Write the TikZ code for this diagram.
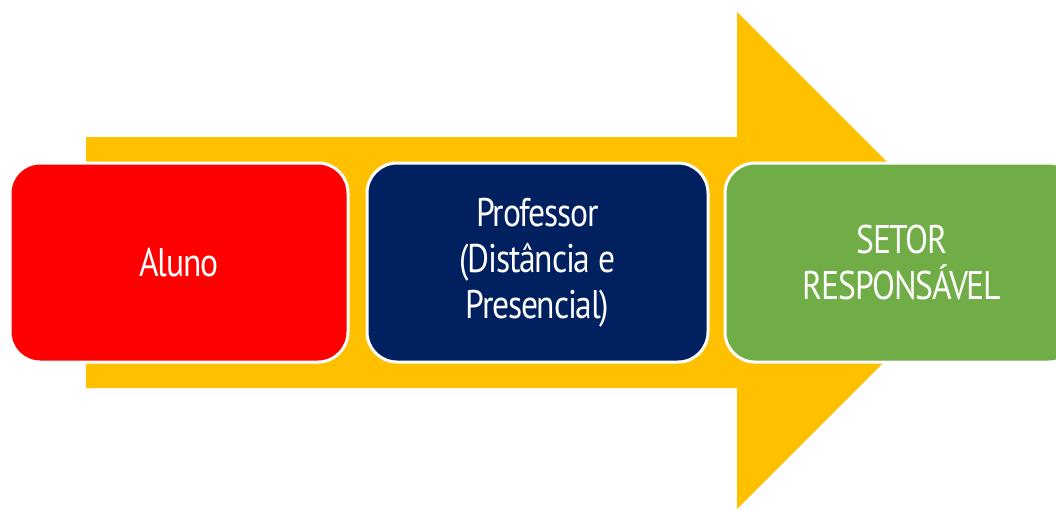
\documentclass[tikz,border=0pt]{standalone}
\usepackage{fontspec}
\newfontfamily\boxfont[FakeStretch=0.84,LetterSpace=-3]{PT Sans}
\definecolor{gold}{HTML}{FFC000}
\definecolor{redbox}{HTML}{FF0000}
\definecolor{navybox}{HTML}{002060}
\definecolor{greenbox}{HTML}{70AD47}
\tikzset{
  stagebox/.style={draw=white, line width=3pt, rounded corners=30pt,
    minimum height=199pt, inner sep=0pt, text=white, align=center,
    font=\boxfont\fontsize{40}{46}\selectfont},
}
\begin{document}
\begin{tikzpicture}[x=1pt,y=-1pt]
\clip (0,0) rectangle (1056,509);
\fill[white] (0,0) rectangle (1056,509);
\fill[gold] (86,137) -- (737,137) -- (737,12) -- (985.5,260.5) -- (737,509) -- (737,388) -- (86,388) -- cycle;
\node[stagebox, fill=redbox, minimum width=338pt] (aluno) at (179,262.5) {Aluno};
\node[stagebox, fill=navybox, minimum width=341pt] (prof) at (537.5,262.5) {Professor\\(Distância e\\Presencial)};
\node[stagebox, fill=greenbox, minimum width=354pt] (setor) at (902,262.5) {SETOR\\RESPONSÁVEL};
\end{tikzpicture}
\end{document}
